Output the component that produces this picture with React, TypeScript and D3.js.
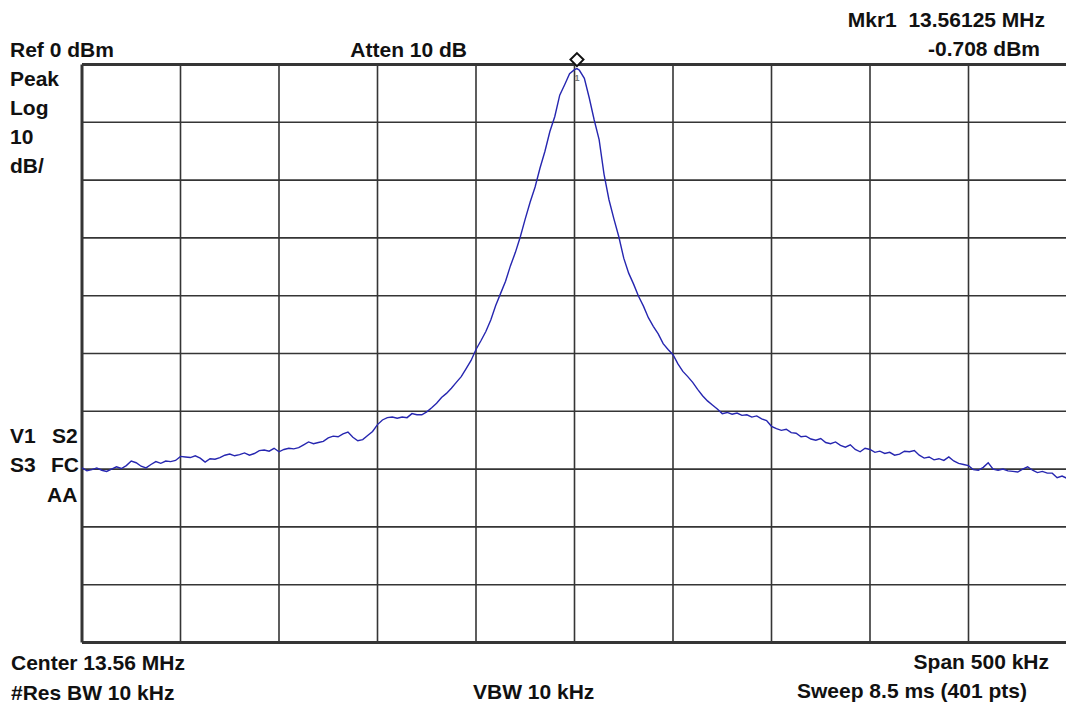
import * as d3 from 'd3'

// instrument settings shown on screen
const CENTER_MHZ = 13.56
const SPAN_KHZ = 500
const REF_DBM = 0
const DB_PER_DIV = 10
const DIVS = 10

// trace: offset from centre (kHz) and level (dBm)
const offsetKhz = [
  -250, -247.5, -245, -242.5, -240, -237.5, -235, -232.5, -230, -227.5,
  -225, -222.5, -220, -217.5, -215, -212.5, -210, -207.5, -205, -202.5,
  -200, -197.5, -195, -192.5, -190, -187.5, -185, -182.5, -180, -177.5,
  -175, -172.5, -170, -167.5, -165, -162.5, -160, -157.5, -155, -152.5,
  -150, -147.5, -145, -142.5, -140, -137.5, -135, -132.5, -130, -127.5,
  -125, -122.5, -120, -117.5, -115, -112.5, -110, -107.5, -105, -102.5,
  -100, -97.5, -95, -92.5, -90, -87.5, -85, -82.5, -80, -77.5,
  -75, -72.5, -70, -67.5, -65, -62.5, -60, -57.5, -55, -52.5,
  -50, -47.5, -45, -42.5, -40, -37.5, -35, -32.5, -30, -27.5,
  -25, -22.5, -20, -17.5, -15, -12.5, -10, -7.5, -5, -2.5,
  0, 1.25, 2.5, 5, 7.5, 10, 12.5, 15, 17.5, 20, 22.5,
  25, 27.5, 30, 32.5, 35, 37.5, 40, 42.5, 45, 47.5,
  50, 52.5, 55, 57.5, 60, 62.5, 65, 67.5, 70, 72.5,
  75, 77.5, 80, 82.5, 85, 87.5, 90, 92.5, 95, 97.5,
  100, 102.5, 105, 107.5, 110, 112.5, 115, 117.5, 120, 122.5,
  125, 127.5, 130, 132.5, 135, 137.5, 140, 142.5, 145, 147.5,
  150, 152.5, 155, 157.5, 160, 162.5, 165, 167.5, 170, 172.5,
  175, 177.5, 180, 182.5, 185, 187.5, 190, 192.5, 195, 197.5,
  200, 202.5, 205, 207.5, 210, 212.5, 215, 217.5, 220, 222.5,
  225, 227.5, 230, 232.5, 235, 237.5, 240, 242.5, 245, 247.5, 250,
]

const levelDbm = [
  -69.8, -70.3, -70.1, -69.8, -70.2, -70.4, -70.0, -69.6, -69.9, -69.4,
  -68.6, -68.9, -69.5, -69.8, -69.2, -68.7, -69.0, -68.6, -68.7, -68.5,
  -67.8, -67.9, -68.0, -67.7, -68.1, -68.8, -68.2, -68.3, -68.0, -67.6,
  -67.4, -67.7, -67.5, -67.2, -67.6, -67.3, -66.8, -66.7, -66.9, -66.4,
  -67.0, -66.6, -66.4, -66.5, -66.3, -65.8, -65.3, -65.6, -65.4, -65.2,
  -64.6, -64.3, -64.4, -63.9, -63.6, -64.5, -65.1, -64.9, -64.2, -63.5,
  -62.3, -61.5, -61.1, -61.0, -61.2, -61.0, -61.1, -60.4, -60.6, -60.6,
  -60.1, -59.4, -58.6, -57.6, -56.9, -56.0, -55.0, -54.0, -52.6, -51.2,
  -49.3, -47.8, -46.2, -44.2, -41.7, -39.6, -37.5, -34.8, -32.5, -29.8,
  -26.7, -23.8, -21.2, -17.9, -15.0, -11.6, -9.0, -5.3, -3.5, -1.6,
  -0.9, -0.708, -1.0, -2.4, -5.8, -9.6, -13.0, -19.0, -23.4, -26.7, -29.8,
  -33.5, -36.1, -38.0, -40.1, -41.8, -43.8, -45.3, -46.6, -48.3, -49.3,
  -50.2, -51.8, -53.1, -54.0, -55.0, -56.2, -57.3, -58.2, -58.9, -59.6,
  -60.4, -60.2, -60.5, -60.3, -60.7, -60.6, -61.0, -60.8, -61.3, -61.6,
  -62.6, -63.0, -63.3, -63.1, -63.7, -63.8, -64.4, -64.3, -64.8, -65.0,
  -64.7, -65.4, -65.6, -65.3, -65.9, -66.2, -65.8, -66.6, -67.0, -66.4,
  -66.6, -67.1, -66.9, -67.3, -67.1, -67.6, -67.4, -66.9, -67.0, -66.8,
  -67.6, -68.1, -67.9, -68.4, -68.2, -68.5, -67.9, -68.6, -69.0, -69.2,
  -69.4, -70.1, -70.2, -69.7, -68.9, -70.0, -70.2, -70.0, -70.3, -70.4,
  -70.5, -70.0, -69.6, -70.2, -70.6, -70.4, -70.7, -70.7, -71.5, -71.2, -71.6,
]

const MARKER_MHZ = 13.56125
const MARKER_DBM = -0.708

const leftLabels = ['Ref 0 dBm', 'Peak', 'Log', '10', 'dB/']

export default function App() {
  const width = 1066
  const height = 706
  const plot = { left: 82, top: 64.5, width: 985, height: 578 }

  const fStart = CENTER_MHZ - SPAN_KHZ / 2000
  const fStop = CENTER_MHZ + SPAN_KHZ / 2000

  const x = d3.scaleLinear().domain([fStart, fStop]).range([plot.left, plot.left + plot.width])
  const y = d3
    .scaleLinear()
    .domain([REF_DBM - DB_PER_DIV * DIVS, REF_DBM])
    .range([plot.top + plot.height, plot.top])

  const vGrid = d3.range(DIVS + 1).map(i => fStart + (i * SPAN_KHZ) / DIVS / 1000)
  const hGrid = d3.range(DIVS + 1).map(i => REF_DBM - i * DB_PER_DIV)

  const points = offsetKhz.map((k, i) => [CENTER_MHZ + k / 1000, levelDbm[i]] as [number, number])
  const line = d3
    .line<[number, number]>()
    .x(d => x(d[0]))
    .y(d => y(d[1]))

  const mx = x(MARKER_MHZ)
  const my = y(MARKER_DBM) - 9

  const font = {
    fontFamily: '"Liberation Sans", Arial, sans-serif',
    fontWeight: 'bold' as const,
    fontSize: '21px',
    fill: '#111',
  }

  return (
    <div style={{ position: 'absolute', left: 0, top: 0 }}>
      <svg width={width} height={height} style={{ display: 'block', background: '#fff' }}>
        {/* grid */}
        {vGrid.map((f, i) => (
          <line
            key={'v' + i}
            x1={x(f)}
            x2={x(f)}
            y1={y.range()[1]}
            y2={y.range()[0]}
            stroke="#353535"
            strokeWidth={i === 0 ? 3 : 1.6}
          />
        ))}
        {hGrid.map((v, i) => (
          <line
            key={'h' + i}
            x1={plot.left}
            x2={plot.left + plot.width}
            y1={y(v)}
            y2={y(v)}
            stroke="#353535"
            strokeWidth={i === 0 || i === DIVS ? 3 : 1.6}
          />
        ))}

        {/* trace */}
        <path d={line(points) || ''} fill="none" stroke="#2626b0" strokeWidth={1.4} />

        {/* marker */}
        <path
          d={`M${mx},${my - 6.5}L${mx + 6.5},${my}L${mx},${my + 6.5}L${mx - 6.5},${my}Z`}
          fill="#fff"
          stroke="#111"
          strokeWidth={2}
        />
        <text x={mx} y={y(MARKER_DBM) + 12} textAnchor="middle" style={{ ...font, fontSize: '9px', fill: '#777' }}>
          1
        </text>

        {/* left annotations */}
        {leftLabels.map((t, i) => (
          <text key={t} x={10} y={57 + i * 29} style={font}>
            {t}
          </text>
        ))}
        <text x={467} y={57} textAnchor="end" style={font}>Atten 10 dB</text>
        <text x={1045} y={27} textAnchor="end" style={font} xmlSpace="preserve">
          Mkr1  13.56125 MHz
        </text>
        <text x={1040} y={56} textAnchor="end" style={font}>-0.708 dBm</text>

        <text x={10} y={443} style={font}>V1</text>
        <text x={52} y={443} style={font}>S2</text>
        <text x={10} y={472} style={font}>S3</text>
        <text x={51} y={472} style={font}>FC</text>
        <text x={47} y={502} style={font}>AA</text>

        <text x={11} y={670} style={font}>Center 13.56 MHz</text>
        <text x={11} y={700} style={font}>#Res BW 10 kHz</text>
        <text x={473} y={699} style={font}>VBW 10 kHz</text>
        <text x={1049} y={669} textAnchor="end" style={font}>Span 500 kHz</text>
        <text x={797} y={698} style={font}>Sweep 8.5 ms (401 pts)</text>
      </svg>
    </div>
  )
}
